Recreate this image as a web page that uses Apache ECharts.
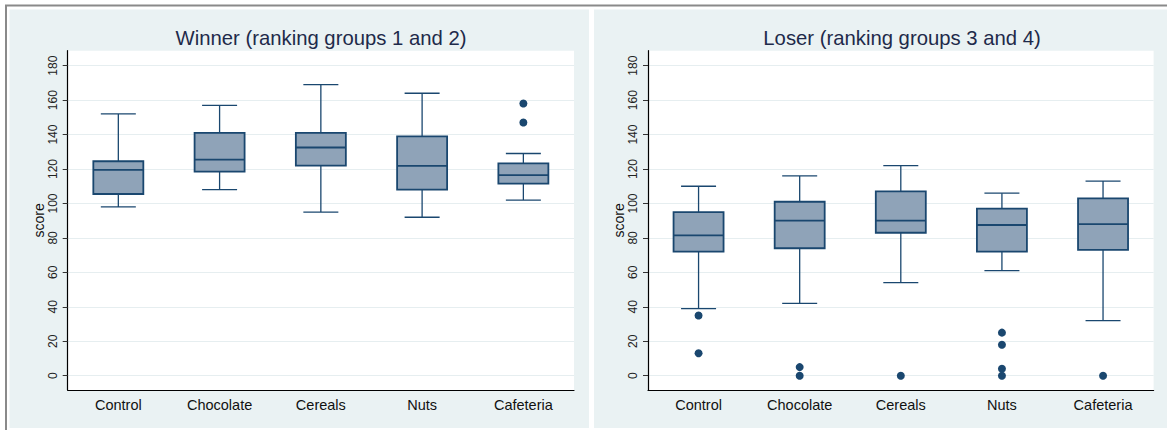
<!DOCTYPE html>
<html>
<head>
<meta charset="utf-8">
<script src="https://cdn.jsdelivr.net/npm/echarts@6/dist/echarts.min.js"></script>
<style>
html,body{margin:0;padding:0;background:#fff;}
#chart{width:1167px;height:430px;}
</style>
</head>
<body>
<div id="chart"></div>
<script>
// ---- data ----
const categories = ['Control', 'Chocolate', 'Cereals', 'Nuts', 'Cafeteria'];
const yTicks = [0, 20, 40, 60, 80, 100, 120, 140, 160, 180];

const winnerMin    = [98, 108, 95, 92, 102];
const winnerQ1     = [105.5, 118.5, 122, 108, 111.5];
const winnerMedian = [119.5, 125.5, 132.5, 121.8, 116.5];
const winnerQ3     = [124.5, 141, 141, 139, 123.3];
const winnerMax    = [152, 157, 169, 164, 129];
const winnerOutliers = [['Cafeteria', 158], ['Cafeteria', 147]];

const loserMin    = [39, 42, 54, 61, 32];
const loserQ1     = [72, 74, 83, 72, 73];
const loserMedian = [81.5, 90, 90, 87.5, 88];
const loserQ3     = [95, 101, 107, 97, 103];
const loserMax    = [110, 116, 122, 106, 113];
const loserOutliers = [
  ['Control', 35], ['Control', 13],
  ['Chocolate', 5], ['Chocolate', 0],
  ['Cereals', 0],
  ['Nuts', 25], ['Nuts', 18], ['Nuts', 4], ['Nuts', 0],
  ['Cafeteria', 0]
];

// ---- styling ----
const NAVY = '#1a476f';
const BOX_FILL = '#8fa3b8';
const PANEL_BG = '#eaf2f3';
const GRID_LINE = '#e6eef0';
const FONT = 'Liberation Sans, Arial, sans-serif';

function boxData(mn, q1, md, q3, mx) {
  return categories.map((c, i) => [i, mn[i], q1[i], md[i], q3[i], mx[i]]);
}

function renderBox(params, api) {
  const xi = api.value(0);
  const pMin = api.coord([xi, api.value(1)]);
  const pQ1 = api.coord([xi, api.value(2)]);
  const pMd = api.coord([xi, api.value(3)]);
  const pQ3 = api.coord([xi, api.value(4)]);
  const pMax = api.coord([xi, api.value(5)]);
  const cx = pMin[0];
  const bw = 50, cw = 35;
  const whisk = { stroke: NAVY, lineWidth: 1.3 };
  const edge = { stroke: NAVY, lineWidth: 1.8 };
  return {
    type: 'group',
    children: [
      { type: 'line', shape: { x1: cx, y1: pQ3[1], x2: cx, y2: pMax[1] }, style: whisk },
      { type: 'line', shape: { x1: cx - cw / 2, y1: pMax[1], x2: cx + cw / 2, y2: pMax[1] }, style: whisk },
      { type: 'line', shape: { x1: cx, y1: pQ1[1], x2: cx, y2: pMin[1] }, style: whisk },
      { type: 'line', shape: { x1: cx - cw / 2, y1: pMin[1], x2: cx + cw / 2, y2: pMin[1] }, style: whisk },
      { type: 'rect', shape: { x: cx - bw / 2, y: pQ3[1], width: bw, height: pQ1[1] - pQ3[1] },
        style: { fill: BOX_FILL, stroke: NAVY, lineWidth: 1.8 } },
      { type: 'line', shape: { x1: cx - bw / 2, y1: pMd[1], x2: cx + bw / 2, y2: pMd[1] }, style: edge }
    ]
  };
}

function xAxisCfg(gi) {
  return {
    type: 'category', gridIndex: gi, data: categories,
    boundaryGap: true,
    axisLine: { onZero: false, lineStyle: { color: '#000', width: 1.2 } },
    axisTick: { show: false },
    axisLabel: { color: '#111', fontSize: 14.5, fontFamily: FONT, margin: 7 },
    splitLine: { show: false }
  };
}
function yAxisCfg(gi) {
  return {
    type: 'value', gridIndex: gi, min: -8.3, max: 188.7,
    name: 'score', nameLocation: 'middle', nameRotate: 90, nameGap: 22,
    nameTextStyle: { color: '#111', fontSize: 14, fontFamily: FONT },
    axisLine: { show: true, onZero: false, lineStyle: { color: '#000', width: 1.2 } },
    axisTick: { show: true, length: 5, customValues: yTicks, lineStyle: { color: '#333' } },
    axisLabel: { rotate: 90, customValues: yTicks, color: '#222', fontSize: 12, fontFamily: FONT, margin: 9 },
    splitLine: { show: true, lineStyle: { color: GRID_LINE, width: 1.2 } }
  };
}

const chart = echarts.init(document.getElementById('chart'), null, { renderer: 'svg' });
chart.setOption({
  backgroundColor: '#fff',
  animation: false,
  graphic: [
    { type: 'rect', z: -10, shape: { x: 9.5, y: 9.5, width: 579.5, height: 418.5 }, style: { fill: PANEL_BG } },
    { type: 'rect', z: -10, shape: { x: 594, y: 9.5, width: 573, height: 418.5 }, style: { fill: PANEL_BG } },
    { type: 'line', z: -5, shape: { x1: 5, y1: 5.5, x2: 1167, y2: 5.5 }, style: { stroke: '#8a8a8a', lineWidth: 2 } },
    { type: 'line', z: -5, shape: { x1: 6, y1: 5, x2: 6, y2: 430 }, style: { stroke: '#8a8a8a', lineWidth: 2 } },
    { type: 'text', x: 321, y: 38, style: { text: 'Winner (ranking groups 1 and 2)', fill: '#1e2a4a', font: '20.3px ' + FONT, align: 'center', verticalAlign: 'middle' } },
    { type: 'text', x: 902, y: 38, style: { text: 'Loser (ranking groups 3 and 4)', fill: '#1e2a4a', font: '20.3px ' + FONT, align: 'center', verticalAlign: 'middle' } }
  ],
  grid: [
    { left: 67.7, top: 50.7, width: 506.3, height: 339.3, show: true, backgroundColor: '#fff', borderWidth: 0 },
    { left: 648, top: 50.7, width: 505.6, height: 339.3, show: true, backgroundColor: '#fff', borderWidth: 0 }
  ],
  xAxis: [xAxisCfg(0), xAxisCfg(1)],
  yAxis: [yAxisCfg(0), yAxisCfg(1)],
  series: [
    { type: 'custom', xAxisIndex: 0, yAxisIndex: 0, renderItem: renderBox,
      encode: { x: 0, y: [1, 2, 3, 4, 5] },
      data: boxData(winnerMin, winnerQ1, winnerMedian, winnerQ3, winnerMax) },
    { type: 'scatter', xAxisIndex: 0, yAxisIndex: 0, symbolSize: 8,
      itemStyle: { color: NAVY, opacity: 1 }, data: winnerOutliers },
    { type: 'custom', xAxisIndex: 1, yAxisIndex: 1, renderItem: renderBox,
      encode: { x: 0, y: [1, 2, 3, 4, 5] },
      data: boxData(loserMin, loserQ1, loserMedian, loserQ3, loserMax) },
    { type: 'scatter', xAxisIndex: 1, yAxisIndex: 1, symbolSize: 8,
      itemStyle: { color: NAVY, opacity: 1 }, data: loserOutliers }
  ]
});
</script>
</body>
</html>
